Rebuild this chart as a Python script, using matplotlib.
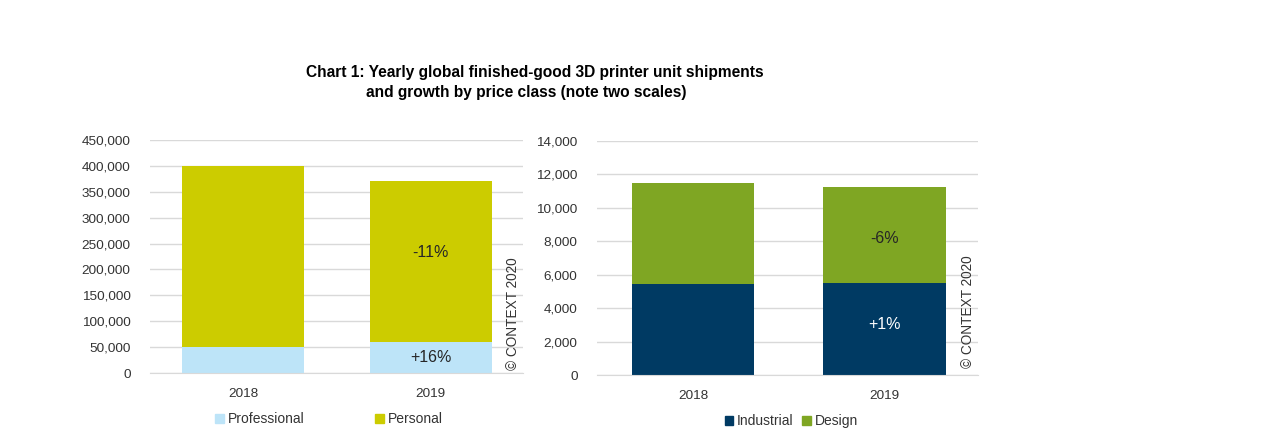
import matplotlib
matplotlib.use("Agg")
import matplotlib.pyplot as plt
from matplotlib.patches import Patch
import numpy as np

years = ["2018", "2019"]
professional = [51000, 59500]
personal = [349000, 311000]
industrial = [5430, 5490]
design = [6050, 5720]
left_labels = {"Personal": "-11%", "Professional": "+16%"}
right_labels = {"Design": "-6%", "Industrial": "+1%"}
left_ticks = [0, 50000, 100000, 150000, 200000, 250000, 300000, 350000, 400000, 450000]
right_ticks = [0, 2000, 4000, 6000, 8000, 10000, 12000, 14000]

C_PROF = "#BDE4F8"
C_PERS = "#CCCC00"
C_IND = "#003A63"
C_DES = "#7FA623"
GRID = "#D9D9D9"
TXT = "#333333"

plt.rcParams["font.family"] = ["Liberation Sans", "DejaVu Sans"]

fig = plt.figure(figsize=(12.8, 4.44), dpi=100)
fig.patch.set_facecolor("white")

fig.text(535 / 1280, 1 - 72 / 444, "Chart 1: Yearly global finished-good 3D printer unit shipments",
         ha="center", va="center", fontsize=11.2, fontweight="bold", color="#000000")
fig.text(526.5 / 1280, 1 - 92 / 444, "and growth by price class (note two scales)",
         ha="center", va="center", fontsize=11.2, fontweight="bold", color="#000000")


def style(ax, ticks):
    ax.set_yticks(ticks)
    ax.set_yticklabels([f"{t:,}" for t in ticks])
    ax.set_ylim(0, ticks[-1])
    ax.yaxis.grid(True, color=GRID, linewidth=1)
    ax.set_axisbelow(True)
    for s in ["top", "right", "left"]:
        ax.spines[s].set_visible(False)
    ax.spines["bottom"].set_color(GRID)
    ax.tick_params(axis="both", length=0, labelsize=9.7, colors=TXT)
    ax.tick_params(axis="y", pad=14)
    ax.tick_params(axis="x", pad=11)


x = np.arange(len(years))

ax1 = fig.add_axes([0.1172, 0.1599, 0.2914, 0.5248])
ax1.bar(x, professional, width=0.65, color=C_PROF, label="Professional")
ax1.bar(x, personal, width=0.65, bottom=professional, color=C_PERS, label="Personal")
ax1.set_xticks(x)
ax1.set_xticklabels(years)
ax1.set_xlim(-0.496, 1.493)
style(ax1, left_ticks)
ax1.text(1, professional[1] / 2, left_labels["Professional"], ha="center", va="center",
         fontsize=11.5, color="#262626")
ax1.text(1, professional[1] + personal[1] * 0.554, left_labels["Personal"], ha="center",
         va="center", fontsize=11.5, color="#262626")
ax1.text(1.44, 0.015, "© CONTEXT 2020", transform=ax1.get_xaxis_transform(), rotation=90,
         ha="center", va="bottom", fontsize=9.8, color=TXT)
ax1.legend(handles=[Patch(color=C_PROF, label="Professional"), Patch(color=C_PERS, label="Personal")],
           loc="upper center", bbox_to_anchor=(0.48, -0.115), ncol=2, frameon=False,
           fontsize=10, handlelength=0.6, handleheight=0.6, handletextpad=0.3,
           columnspacing=5.1, labelcolor=TXT)

ax2 = fig.add_axes([0.4664, 0.1554, 0.2977, 0.5277])
ax2.bar(x, industrial, width=0.64, color=C_IND, label="Industrial")
ax2.bar(x, design, width=0.64, bottom=industrial, color=C_DES, label="Design")
ax2.set_xticks(x)
ax2.set_xticklabels(years)
ax2.set_xlim(-0.503, 1.49)
style(ax2, right_ticks)
ax2.text(1, industrial[1] * 0.55, right_labels["Industrial"], ha="center", va="center",
         fontsize=11.5, color="white")
ax2.text(1, industrial[1] + design[1] * 0.47, right_labels["Design"], ha="center",
         va="center", fontsize=11.5, color="#262626")
ax2.text(1.44, 0.03, "© CONTEXT 2020", transform=ax2.get_xaxis_transform(), rotation=90,
         ha="center", va="bottom", fontsize=9.8, color=TXT)
ax2.legend(handles=[Patch(color=C_IND, label="Industrial"), Patch(color=C_DES, label="Design")],
           loc="upper center", bbox_to_anchor=(0.51, -0.115), ncol=2, frameon=False,
           fontsize=10, handlelength=0.6, handleheight=0.6, handletextpad=0.3,
           columnspacing=0.6, labelcolor=TXT)

fig.savefig("out.png", dpi=100, facecolor="white")
